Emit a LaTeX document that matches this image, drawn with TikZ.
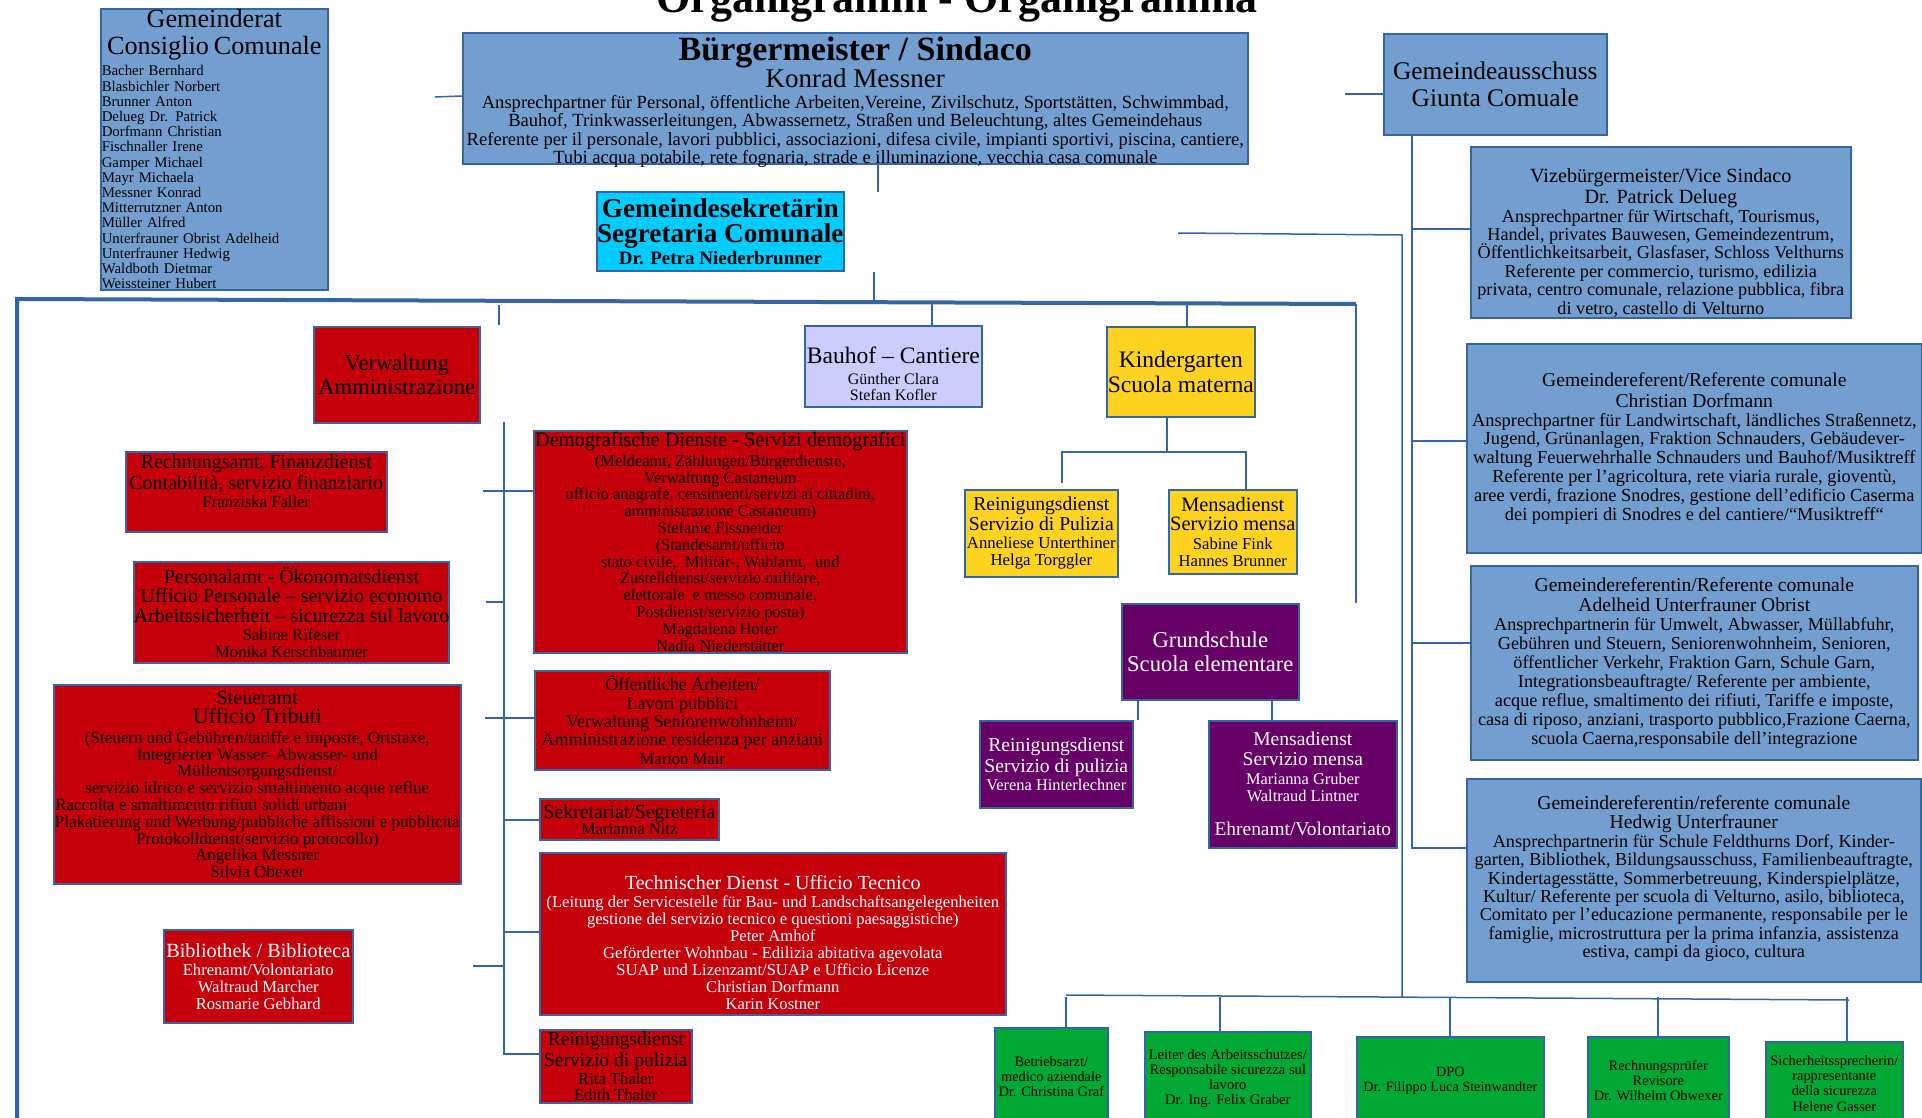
\documentclass[tikz,border=0pt]{standalone}
\usepackage{fontspec}
\setmainfont{Liberation Serif}

\definecolor{frame}{HTML}{3465A4}
\definecolor{gblue}{HTML}{729FCF}
\definecolor{gred}{HTML}{C5000B}
\definecolor{gcyan}{HTML}{00CCFF}
\definecolor{gyellow}{HTML}{FFD320}
\definecolor{glila}{HTML}{CCCCFF}
\definecolor{gpurple}{HTML}{660066}
\definecolor{ggreen}{HTML}{00A933}

\newcommand{\fz}[2]{\fontsize{#1}{#2}\selectfont}

\tikzset{
  box/.style={draw=frame, line width=0.8pt, inner sep=0pt, align=center},
  bluebox/.style={box, fill=gblue},
  redbox/.style={box, fill=gred},
  cyanbox/.style={box, fill=gcyan},
  yellowbox/.style={box, fill=gyellow},
  lilabox/.style={box, fill=glila},
  purplebox/.style={box, fill=gpurple, text=white},
  greenbox/.style={box, fill=ggreen},
  wh/.style 2 args={minimum width=#1*0.5pt, minimum height=#2*0.5pt},
  lowtext/.style 2 args={text height=#1, text depth=#2},
  link/.style={draw=frame, line width=0.75pt},
  mainline/.style={draw=frame, line width=2pt},
}

\begin{document}
\lineskiplimit=-20pt
\begin{tikzpicture}[x=0.5pt, y=-0.5pt]
	\useasboundingbox (0,0) rectangle (1922,1118);
	% title
	\node[font=\bfseries\fz{22}{24}, anchor=base] (titel) at (957,13) {Organigramm - Organigramma};
	% council and mayor
	\node[bluebox, wh={227}{281}, anchor=north west, text width=112.5pt, align=left, font=\fz{7.4}{7.6}] (rat) at (100,8)
	{{\centering\fz{13.1}{13.4}Gemeinderat\\Consiglio Comunale\par}\vspace{1.6pt}
	Bacher Bernhard\\Blasbichler Norbert\\Brunner Anton\\Delueg Dr. Patrick\\Dorfmann Christian\\Fischnaller Irene\\Gamper Michael\\Mayr Michaela\\Messner Konrad\\Mitterrutzner Anton\\Müller Alfred\\Unterfrauner Obrist Adelheid\\Unterfrauner Hedwig\\Waldboth Dietmar\\Weissteiner Hubert};
	\node[bluebox, wh={785}{131}, anchor=north west, lowtext={65.5pt}{0pt}, font=\fz{9.3}{9.2}] (bgm) at (462,32)
	{{\bfseries\fz{17}{17}Bürgermeister / Sindaco}\\[4.3pt]
	{\fz{13.5}{13.5}Konrad Messner}\\[1.3pt]
	Ansprechpartner für Personal, öffentliche Arbeiten,Vereine, Zivilschutz, Sportstätten, Schwimmbad,\\
	Bauhof, Trinkwasserleitungen, Abwassernetz, Straßen und Beleuchtung, altes Gemeindehaus\\
	Referente per il personale, lavori pubblici, associazioni, difesa civile, impianti sportivi, piscina, cantiere,\\
	Tubi acqua potabile, rete fognaria, strade e illuminazione, vecchia casa comunale};
	\node[cyanbox, wh={247}{79}, anchor=north west, font=\bfseries\fz{9.5}{11}] (sek) at (596,191)
	{{\fz{13.6}{13.6}Gemeindesekretärin}\\[1.4pt]{\fz{13.6}{13.6}Segretaria Comunale}\\Dr. Petra Niederbrunner};
	% Giunta
	\node[bluebox, wh={223}{101}, anchor=north west, font=\fz{12.7}{13.5}] (ausschuss) at (1383,33) {Gemeindeausschuss\\Giunta Comuale};
	\node[bluebox, wh={380}{171}, anchor=north west, lowtext={83.7pt}{1.8pt}, font=\fz{9.1}{9.2}] (vize) at (1470,146)
	{{\fz{10.1}{10}Vizebürgermeister/Vice Sindaco}\\[1.2pt]{\fz{10.1}{10}Dr. Patrick Delueg}\\
	Ansprechpartner für Wirtschaft, Tourismus,\\Handel, privates Bauwesen, Gemeindezentrum,\\Öffentlichkeitsarbeit, Glasfaser, Schloss Velthurns\\
	Referente per commercio, turismo, edilizia\\privata, centro comunale, relazione pubblica, fibra\\di vetro, castello di Velturno};
	\node[bluebox, wh={455}{209}, anchor=north west, font=\fz{9.2}{9.4}] (dorf) at (1466,343)
	{{\fz{9.8}{10}Gemeindereferent/Referente comunale}\\[1pt]{\fz{9.8}{10}Christian Dorfmann}\\
	Ansprechpartner für Landwirtschaft, ländliches Straßennetz,\\Jugend, Grünanlagen, Fraktion Schnauders, Gebäudever-\\waltung Feuerwehrhalle Schnauders und Bauhof/Musiktreff\\
	Referente per l’agricoltura, rete viaria rurale, gioventù,\\aree verdi, frazione Snodres, gestione dell’edificio Caserma\\dei pompieri di Snodres e del cantiere/“Musiktreff“};
	\node[bluebox, wh={447}{194}, anchor=north west, font=\fz{9.1}{9.5}] (adel) at (1470,565)
	{{\fz{9.8}{10}Gemeindereferentin/Referente comunale}\\[0.5pt]{\fz{9.8}{10}Adelheid Unterfrauner Obrist}\\
	Ansprechpartnerin für Umwelt, Abwasser, Müllabfuhr,\\Gebühren und Steuern, Seniorenwohnheim, Senioren,\\öffentlicher Verkehr, Fraktion Garn, Schule Garn,\\Integrationsbeauftragte/ Referente per ambiente,\\
	acque reflue, smaltimento dei rifiuti, Tariffe e imposte,\\casa di riposo, anziani, trasporto pubblico,Frazione Caerna,\\scuola Caerna,responsabile dell’integrazione};
	\node[bluebox, wh={454}{203}, anchor=north west, font=\fz{9.1}{9.2}] (hedw) at (1466,778)
	{\mbox{}\\[-4pt]{\fz{9.8}{10}Gemeindereferentin/referente comunale}\\[0.6pt]{\fz{9.8}{10}Hedwig Unterfrauner}\\
	Ansprechpartnerin für Schule Feldthurns Dorf, Kinder-\\garten, Bibliothek, Bildungsausschuss, Familienbeauftragte,\\Kindertagesstätte, Sommerbetreuung, Kinderspielplätze,\\
	Kultur/ Referente per scuola di Velturno, asilo, biblioteca,\\Comitato per l'educazione permanente, responsabile per le\\famiglie, microstruttura per la prima infanzia, assistenza\\estiva, campi da gioco, cultura};
	% administration
	\node[redbox, wh={166}{96}, anchor=north west, font=\fz{11.3}{11.6}] (verw) at (313,326) {Verwaltung\\Amministrazione};
	\node[redbox, wh={261}{80}, anchor=north west, font=\fz{8.3}{8.2}] (rech) at (125,451)
	{{\fz{10}{10}Rechnungsamt, Finanzdienst}\\[2.2pt]{\fz{10}{10}Contabilità, servizio finanziario}\\[1pt]Franziska Faller\\[2.6pt]\mbox{}};
	\node[redbox, wh={311}{101}, anchor=north west, font=\fz{8.3}{8.6}] (pers) at (133,561)
	{{\fz{10}{10}Personalamt - Ökonomatsdienst}\\[1.2pt]{\fz{10}{10}Ufficio Personale – servizio economo}\\[1.2pt]{\fz{10}{10}Arbeitssicherheit – sicurezza sul lavoro}\\[0.4pt]Sabine Rifeser\\Monika Kerschbaumer};
	\node[redbox, wh={407}{199}, anchor=north west, font=\fz{8.5}{8.4}] (steuer) at (53,684)
	{{\fz{10}{10}Steueramt}\\[1.4pt]{\fz{11}{11}Ufficio Tributi}\\[1.4pt]
	(Steuern und Gebühren/tariffe e imposte, Ortstaxe,\\Integrierter Wasser- Abwasser- und\\Müllentsorgungsdienst/\\servizio idrico e servizio smaltimento acque reflue\\
	\makebox[202pt][l]{Raccolta e smaltimento rifiuti solidi urbani}\\Plakatierung und Werbung/pubbliche affissioni e pubblicità\\Protokolldienst/servizio protocollo)\\Angelika Messner\\Silvia Obexer};
	\node[redbox, wh={189}{93}, anchor=north west, text=white, font=\fz{8.3}{8.3}] (biblio) at (163,929)
	{{\fz{10.1}{10}Bibliothek / Biblioteca}\\[0.9pt]Ehrenamt/Volontariato\\Waltraud Marcher\\Rosmarie Gebhard};
	\node[redbox, wh={373}{222}, anchor=north west, font=\fz{8.2}{8.4}] (demo) at (533,430)
	{{\fz{10.2}{10}Demografische Dienste - Servizi demografici}\\[1.4pt]
	(Meldeamt, Zählungen/Bürgerdienste,\\Verwaltung Castaneum\\ufficio anagrafe, censimenti/servizi ai cittadini,\\amministrazione Castaneum)\\Stefanie Fissneider\\(Standesamt/ufficio\\
	stato civile,\ \ Militär-, Wahlamt,\ \ und\\Zustelldienst/servizio militare,\\elettorale\ \ e messo comunale,\\Postdienst/servizio posta)\\Magdalena Hofer\\Nadia Niederstätter};
	\node[redbox, wh={295}{99}, anchor=north west, font=\fz{9}{9.2}] (oeff) at (534,670)
	{Öffentliche Arbeiten/\\Lavori pubblici\\Verwaltung Seniorenwohnheim/\\Amministrazione residenza per anziani\\{\fz{8.3}{8}Marion Mair}};
	\node[redbox, wh={179}{41}, anchor=north west, font=\fz{8.3}{8}] (sekr) at (539,798)
	{{\fz{9.9}{10}Sekretariat/Segreteria}\\Marianna Nitz};
	\node[redbox, wh={466}{162}, anchor=north west, text=white, lowtext={78.5pt}{2.5pt}, font=\fz{8.3}{8.5}] (tech) at (539,852)
	{{\fz{10}{10}Technischer Dienst - Ufficio Tecnico}\\[0.7pt]
	(Leitung der Servicestelle für Bau- und Landschaftsangelegenheiten\\gestione del servizio tecnico e questioni paesaggistiche)\\Peter Amhof\\
	Geförderter Wohnbau - Edilizia abitativa agevolata\\SUAP und Lizenzamt/SUAP e Ufficio Licenze\\Christian Dorfmann\\Karin Kostner};
	\node[redbox, wh={152}{73}, anchor=north west, font=\fz{8.3}{8.2}] (rein) at (539,1029)
	{{\fz{9.8}{10}Reinigungsdienst}\\[2.2pt]{\fz{9.8}{10}Servizio di pulizia}\\[1pt]Rita Thaler\\Edith Thaler};
	% services
	\node[lilabox, wh={177}{81}, anchor=north west, lowtext={37.1pt}{3.4pt}, font=\fz{8}{8}] (bauhof) at (804,325)
	{{\fz{11.8}{12}Bauhof – Cantiere}\\[2.4pt]Günther Clara\\Stefan Kofler};
	\node[yellowbox, wh={148}{90}, anchor=north west, font=\fz{11.8}{12.2}] (kiga) at (1106,326) {Kindergarten\\Scuola materna};
	\node[yellowbox, wh={153}{87}, anchor=north west, font=\fz{8.4}{8.6}] (kreinig) at (964,489)
	{{\fz{9.8}{10}Reinigungsdienst}\\[1.2pt]{\fz{9.8}{10}Servizio di Pulizia}\\[0.6pt]Anneliese Unterthiner\\Helga Torggler};
	\node[yellowbox, wh={128}{84}, anchor=north west, font=\fz{8.3}{8.6}] (kmensa) at (1168,489)
	{{\fz{10.2}{10}Mensadienst}\\[1.2pt]{\fz{10.2}{10}Servizio mensa}\\[0.6pt]Sabine Fink\\Hannes Brunner};
	\node[purplebox, wh={177}{96}, anchor=north west, font=\fz{11.3}{11.6}] (grund) at (1121,603) {Grundschule\\Scuola elementare};
	\node[purplebox, wh={153}{87}, anchor=north west, font=\fz{8.2}{9.2}] (greinig) at (979,720)
	{{\fz{9.8}{10}Reinigungsdienst}\\[1.2pt]{\fz{9.8}{10}Servizio di pulizia}\\Verena Hinterlechner};
	\node[purplebox, wh={188}{127}, anchor=north west, font=\fz{8.2}{8.6}] (gmensa) at (1208,720)
	{{\fz{9.8}{10}Mensadienst}\\[1.2pt]{\fz{9.8}{10}Servizio mensa}\\[0.8pt]Marianna Gruber\\Waltraud Lintner\\[8.6pt]{\fz{9.7}{10}Ehrenamt/Volontariato}};
	% external
	\node[greenbox, wh={113}{97}, anchor=north west, font=\fz{7.2}{7.4}] (arzt) at (994,1027) {Betriebsarzt/\\medico aziendale\\Dr. Christina Graf};
	\node[greenbox, wh={166}{93}, anchor=north west, font=\fz{7.3}{7.4}] (leiter) at (1144,1031) {Leiter des Arbeitsschutzes/\\Responsabile sicurezza sul\\lavoro\\Dr. Ing. Felix Graber};
	\node[greenbox, wh={187}{88}, anchor=north west, font=\fz{7.1}{7.4}] (dpo) at (1356,1036) {DPO\\Dr. Filippo Luca Steinwandter};
	\node[greenbox, wh={141}{88}, anchor=north west, font=\fz{7.2}{7.4}] (pruef) at (1587,1036) {Rechnungsprüfer\\Revisore\\Dr. Wilhelm Obwexer};
	\node[greenbox, wh={137}{83}, anchor=north west, font=\fz{7.2}{7.6}] (sicher) at (1765,1041) {Sicherheitssprecherin/\\rappresentante\\della sicurezza\\Helene Gasser};
	% main frame
	\draw[mainline] (17,1125) -- (17,299) -- (1356,304);
	\draw[link] (1356,304) -- (grund.north -| 1356,0);
	% mayor links
	\draw[link] (bgm.west |- 0,96) -- (435,97);
	\draw[link] (bgm.south -| 878,0) -- (878,192);
	\draw[link] (sek.south -| 874,0) -- (874,300);
	\draw[link] (499,305) -- (499,325);
	\draw[link] (932,303) -- (bauhof.north -| 932,0);
	\draw[link] (1187,304) -- (kiga.north -| 1187,0);
	% kindergarten
	\draw[link] (kiga.south -| 1167,0) -- (1167,452);
	\draw[link] (1062,483) -- (1062,452) -- (1246,452) -- (kmensa.north -| 1246,0);
	% school
	\draw[link] (grund.south -| 1138,0) -- (1138,720);
	\draw[link] (grund.south -| 1272,0) -- (gmensa.north -| 1272,0);
	% administration spine
	\draw[link] (504,422) -- (504,1054) -- (rein.west |- 0,1054);
	\draw[link] (483,491) -- (demo.west |- 0,491);
	\draw[link] (486,602) -- (504,602);
	\draw[link] (485,718) -- (oeff.west |- 0,718);
	\draw[link] (473,966) -- (504,966);
	\draw[link] (504,820) -- (sekr.west |- 0,820);
	\draw[link] (504,932) -- (tech.west |- 0,932);
	% Giunta spine
	\draw[link] (1345,94) -- (ausschuss.west |- 0,94);
	\draw[link] (ausschuss.south -| 1412,0) -- (1412,848) -- (hedw.west |- 0,848);
	\draw[link] (1412,229) -- (vize.west |- 0,229);
	\draw[link] (1412,441) -- (dorf.west |- 0,441);
	\draw[link] (1412,643) -- (adel.west |- 0,643);
	% external services
	\draw[link] (1178,233) -- (1402,235) -- (1402,997);
	\draw[link] (1066,995) -- (1849,1000);
	\foreach \nd/\xx in {arzt/1066, leiter/1220, dpo/1450, pruef/1658, sicher/1847}
		\draw[link] (\xx,997) -- (\nd.north -| \xx,0);
\end{tikzpicture}
\end{document}
